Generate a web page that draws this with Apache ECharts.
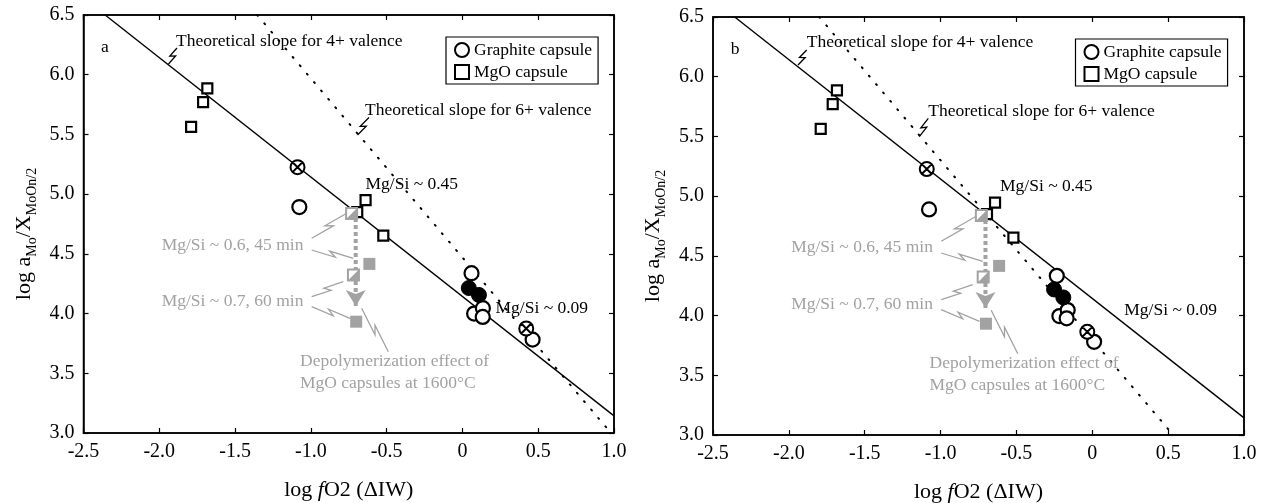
<!DOCTYPE html>
<html>
<head>
<meta charset="utf-8">
<script src="https://cdn.jsdelivr.net/npm/echarts@6/dist/echarts.min.js"></script>
<style>
html, body { margin: 0; background: #fff; }
#container { width: 1267px; height: 503px; }
</style>
</head>
<body>
<div id="container"></div>
<script>
let chart = echarts.init(document.getElementById('container'));
const FONT = 'Liberation Serif';
const GRAY = '#a2a2a2';

// panel a : [log fO2 (dIW), log aMo/XMoOn/2]
const mgoA = [[-1.683, 5.886], [-1.711, 5.770], [-1.790, 5.563], [-0.639, 4.950], [-0.694, 4.849], [-0.522, 4.652]];
const openA = [[-1.076, 4.892], [0.060, 4.338], [0.077, 4.000], [0.135, 4.045], [0.134, 3.972], [0.463, 3.782]];
const filledA = [[0.042, 4.214], [0.109, 4.156]];
const crossA = [[-1.088, 5.226], [0.421, 3.875]];
const slope4A = [[-2.357, 6.5], [1.0, 3.143]];
const slope6A = [[-1.354, 6.5], [0.98, 3.0]];

// panel b
const mgoB = [[-1.683, 5.886], [-1.711, 5.770], [-1.790, 5.563], [-0.641, 4.945], [-0.694, 4.849], [-0.520, 4.652]];
const openB = [[-1.076, 4.889], [-0.234, 4.333], [-0.217, 3.996], [-0.162, 4.046], [-0.169, 3.977], [0.012, 3.780]];
const filledB = [[-0.252, 4.219], [-0.191, 4.152]];
const crossB = [[-1.091, 5.227], [-0.033, 3.864]];
const slope4B = [[-2.357, 6.5], [1.0, 3.143]];
const slope6B = [[-1.8, 6.5], [0.533, 3.0]];

// grey MgO runs at 1600 C, same in both panels
const grayHalf = [[-0.731, 4.837], [-0.719, 4.322]];
const grayFull = [[-0.614, 4.416], [-0.701, 3.932]];
const grayArrow = [[-0.704, 4.80], [-0.704, 4.063]];

const xTickFmt = v => v === 0 ? '0' : v.toFixed(1);
const yTickFmt = v => v.toFixed(1);

const panels = [
    {grid: {left: 83.5, top: 15, width: 530.5, height: 418}, mgo: mgoA, open: openA, filled: filledA, cross: crossA, s4: slope4A, s6: slope6A},
    {grid: {left: 713, top: 17, width: 531, height: 418}, mgo: mgoB, open: openB, filled: filledB, cross: crossB, s4: slope4B, s6: slope6B},
];

function xAxis(g, pos) {
    return {
        type: 'value', gridIndex: g, position: pos, min: -2.5, max: 1.0, interval: 0.5,
        axisLine: {show: true, onZero: false, lineStyle: {color: '#000', width: 1.5}},
        axisTick: {show: true, inside: true, length: 5, lineStyle: {color: '#000', width: 1.2}},
        axisLabel: {show: pos === 'bottom', margin: 9, color: '#000', fontFamily: FONT, fontSize: 20, formatter: xTickFmt},
        splitLine: {show: false},
        name: pos === 'bottom' ? '{n|log }{i|f}{n|O2 (ΔIW)}' : '',
        nameLocation: 'middle', nameGap: 46,
        nameTextStyle: {rich: {
            n: {fontFamily: FONT, fontSize: 22, color: '#000'},
            i: {fontFamily: FONT, fontSize: 22, fontStyle: 'italic', color: '#000'},
        }},
    };
}
function yAxis(g, pos) {
    return {
        type: 'value', gridIndex: g, position: pos, min: 3.0, max: 6.5, interval: 0.5,
        axisLine: {show: true, onZero: false, lineStyle: {color: '#000', width: 1.5}},
        axisTick: {show: true, inside: true, length: 5, lineStyle: {color: '#000', width: 1.2}},
        axisLabel: {show: pos === 'left', margin: 9, color: '#000', fontFamily: FONT, fontSize: 20, formatter: yTickFmt},
        splitLine: {show: false},
    };
}

let xAxes = [], yAxes = [], series = [];
const crossPath = 'path://M10,0A10,10,0,1,1,-10,0A10,10,0,1,1,10,0ZM7.07,7.07L-7.07,-7.07M-7.07,7.07L7.07,-7.07';
const triPath = 'path://M10,0L10,10L0,10Z';

panels.forEach((p, i) => {
    xAxes.push(xAxis(i, 'bottom'), xAxis(i, 'top'));
    yAxes.push(yAxis(i, 'left'), yAxis(i, 'right'));
    let ax = {xAxisIndex: 2 * i, yAxisIndex: 2 * i, animation: false, silent: true};
    series.push(
        Object.assign({type: 'line', data: p.s4, symbol: 'none', lineStyle: {color: '#000', width: 1.4}, z: 1}, ax),
        Object.assign({type: 'line', data: p.s6, symbol: 'none', lineStyle: {color: '#000', width: 2, type: [1, 10], cap: 'round'}, z: 1}, ax),
        Object.assign({name: 'MgO capsule', type: 'scatter', data: p.mgo, symbol: 'rect', symbolSize: 10,
            itemStyle: {color: '#fff', borderColor: '#000', borderWidth: 2.2, opacity: 1}, z: 2}, ax),
        Object.assign({name: 'Graphite capsule', type: 'scatter', data: p.open, symbol: 'circle', symbolSize: 14,
            itemStyle: {color: '#fff', borderColor: '#000', borderWidth: 2.2, opacity: 1}, z: 3}, ax),
        Object.assign({name: 'graphite filled', type: 'scatter', data: p.filled, symbol: 'circle', symbolSize: 15,
            itemStyle: {color: '#000', borderColor: '#000', borderWidth: 1, opacity: 1}, z: 4}, ax),
        Object.assign({name: 'graphite crossed', type: 'scatter', data: p.cross, symbol: crossPath, symbolSize: 14,
            itemStyle: {color: '#fff', borderColor: '#000', borderWidth: 2, opacity: 1}, z: 4}, ax),
        Object.assign({type: 'line', data: [grayArrow[0], {value: grayArrow[1], symbol: 'arrow', symbolSize: [15, 16], symbolRotate: 180}],
            showSymbol: true, symbol: 'none', itemStyle: {color: GRAY, opacity: 1}, lineStyle: {color: GRAY, width: 4, type: [4, 3]}, z: 5}, ax),
        Object.assign({type: 'scatter', data: grayHalf, symbol: 'rect', symbolSize: 11,
            itemStyle: {color: '#fff', borderColor: GRAY, borderWidth: 2, opacity: 1}, z: 6}, ax),
        Object.assign({type: 'scatter', data: grayHalf, symbol: triPath, symbolSize: 11,
            itemStyle: {color: GRAY, opacity: 1}, z: 7}, ax),
        Object.assign({type: 'scatter', data: grayFull, symbol: 'rect', symbolSize: 12,
            itemStyle: {color: GRAY, opacity: 1}, z: 6}, ax),
    );
});

// annotations (pixel positions, panel a; panel b shifted)
function zig(ax, ay, bx, by, color) {
    let dx = bx - ax, dy = by - ay, L = Math.hypot(dx, dy);
    let nx = -dy / L, ny = dx / L, s = 2.5;
    return {
        type: 'polyline', silent: true, z: 10,
        shape: {points: [[ax, ay],
            [ax + 0.58 * dx + s * nx, ay + 0.58 * dy + s * ny],
            [ax + 0.42 * dx - s * nx, ay + 0.42 * dy - s * ny],
            [bx, by]]},
        style: {stroke: color, lineWidth: 1.3, fill: null},
    };
}
function label(text, x, y, color, align, size) {
    return {
        type: 'text', x: x, y: y, silent: true, z: 10,
        style: {text: text, fill: color, fontFamily: FONT, fontSize: size || 17.5, align: align || 'left', verticalAlign: 'middle'},
    };
}
function yTitle(x, y) {
    return {
        type: 'text', x: x, y: y, rotation: Math.PI / 2, silent: true,
        style: {
            text: '{m|log a}{s|Mo}{m|/X}{s|MoOn/2}', align: 'center', verticalAlign: 'middle',
            rich: {
                m: {fontFamily: FONT, fontSize: 22, fill: '#000', lineHeight: 22, verticalAlign: 'top'},
                s: {fontFamily: FONT, fontSize: 14, fill: '#000', lineHeight: 14, verticalAlign: 'top', padding: [12, 0, 0, 0]},
            },
        },
    };
}

let graphic = [
    label('a', 105, 47, '#000', 'center'),
    label('Theoretical slope for 4+ valence', 176, 41, '#000'),
    zig(177, 48, 168.5, 64, '#000'),
    label('Theoretical slope for 6+ valence', 365, 110, '#000'),
    zig(369, 117.5, 357.5, 135, '#000'),
    label('Mg/Si ~ 0.45', 365.5, 184, '#000'),
    label('Mg/Si ~ 0.09', 495.5, 308.5, '#000'),
    label('Mg/Si ~ 0.6, 45 min', 161.7, 245, GRAY),
    label('Mg/Si ~ 0.7, 60 min', 161.7, 301.7, GRAY),
    label('Depolymerization effect of', 300, 361.7, GRAY),
    label('MgO capsules at 1600°C', 300, 383.3, GRAY),
    zig(311.7, 238.3, 346.7, 213.3, GRAY),
    zig(311.7, 250, 353.3, 258.3, GRAY),
    zig(311.7, 296.7, 343.3, 281.7, GRAY),
    zig(311.7, 306.7, 350, 318.3, GRAY),
    zig(388.3, 351.7, 361.7, 308.3, GRAY),
    yTitle(24, 234),

    label('b', 735, 49, '#000', 'center'),
    label('Theoretical slope for 4+ valence', 806.7, 42.7, '#000'),
    zig(806.7, 50, 798, 65, '#000'),
    label('Theoretical slope for 6+ valence', 928.3, 111.7, '#000'),
    zig(928.3, 118.3, 919.3, 136.7, '#000'),
    label('Mg/Si ~ 0.45', 1000, 186, '#000'),
    label('Mg/Si ~ 0.09', 1124.3, 310, '#000'),
    label('Mg/Si ~ 0.6, 45 min', 791.2, 247.5, GRAY),
    label('Mg/Si ~ 0.7, 60 min', 791.2, 304, GRAY),
    label('Depolymerization effect of', 929.5, 363.7, GRAY),
    label('MgO capsules at 1600°C', 929.5, 385.3, GRAY),
    zig(941.2, 241.3, 976.2, 216.3, GRAY),
    zig(941.2, 253, 982.8, 261.3, GRAY),
    zig(941.2, 299.7, 972.8, 284.7, GRAY),
    zig(941.2, 309.7, 979.5, 321.3, GRAY),
    zig(1017.8, 353.7, 991.2, 310.3, GRAY),
    yTitle(653.5, 236),
];

let legend = [[446, 37], [1075.5, 39]].map(pos => ({
    data: ['Graphite capsule', 'MgO capsule'],
    orient: 'vertical', left: pos[0], top: pos[1],
    padding: [4, 6, 3, 8], itemGap: 4, itemWidth: 14, itemHeight: 14,
    borderColor: '#000', borderWidth: 1.2, selectedMode: false,
    textStyle: {fontFamily: FONT, fontSize: 17.5, color: '#000'},
}));

let option = {
    backgroundColor: '#fff',
    animation: false,
    grid: panels.map(p => Object.assign({show: true, borderColor: '#000', borderWidth: 1.5, containLabel: false, outerBoundsMode: 'none'}, p.grid)),
    xAxis: xAxes,
    yAxis: yAxes,
    legend: legend,
    series: series,
    graphic: graphic,
};
chart.setOption(option);
</script>
</body>
</html>
